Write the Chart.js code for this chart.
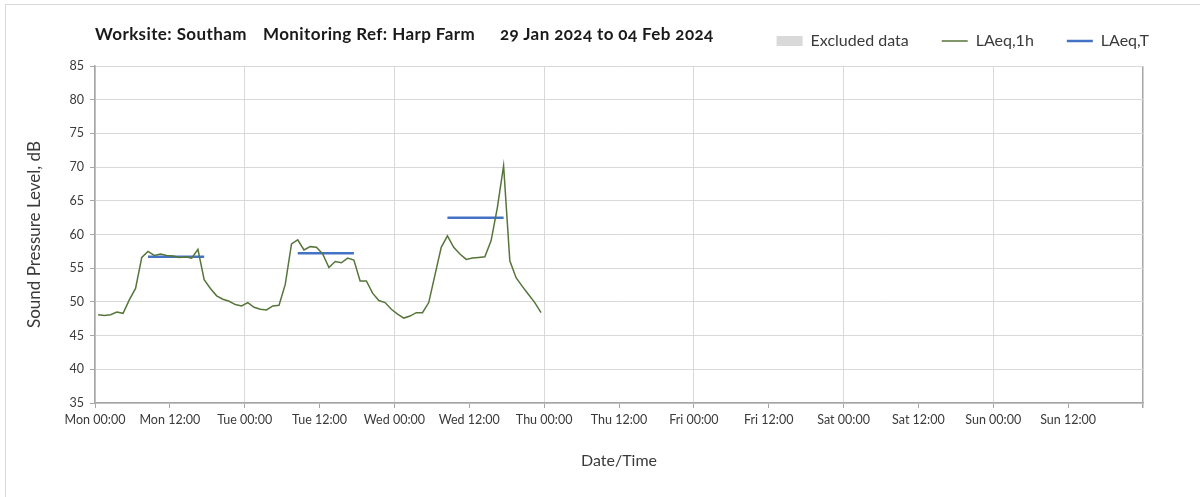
<!DOCTYPE html>
<html><head><meta charset="utf-8">
<script src="https://cdn.jsdelivr.net/npm/chart.js@4.4.1/dist/chart.umd.min.js"></script>
<style>
html,body{margin:0;padding:0;background:#fff;}
#wrap{position:relative;width:1200px;height:497px;overflow:hidden;}
#frame{position:absolute;left:5px;top:4px;right:-2px;bottom:-2px;border-left:1px solid #d9d9d9;border-top:1px solid #d9d9d9;pointer-events:none;}
.t{position:absolute;top:24px;font-family:Lato;font-weight:bold;font-size:17px;letter-spacing:0.4px;line-height:20px;color:#1a1a1a;white-space:nowrap;font-feature-settings:"onum";}
canvas{position:absolute;left:0;top:0;}
</style></head><body>
<div id="wrap">
<canvas id="c" width="1200" height="497"></canvas>
<div id="frame"></div>
<div class="t" style="left:95px">Worksite: Southam</div>
<div class="t" style="left:263px">Monitoring Ref: Harp Farm</div>
<div class="t" style="left:500px">29 Jan 2024 to 04 Feb 2024</div>
</div>
<script>
// Hour offsets from Mon 00:00 (hourly values plotted mid-hour)
const hours = Array.from({length:72}, (_, i) => i + 0.5);
const laeq1h = [
  48.1,48.0,48.1,48.5,48.3,50.3,52.0,56.6,57.5,56.9,57.1,56.9,56.8,56.6,56.7,56.5,57.8,53.3,52.0,50.9,50.4,50.1,49.6,49.4,
  49.9,49.2,48.9,48.8,49.4,49.5,52.6,58.6,59.2,57.7,58.2,58.1,57.1,55.1,56.0,55.8,56.5,56.2,53.1,53.1,51.3,50.2,49.9,48.9,
  48.2,47.6,47.9,48.4,48.4,49.9,54.0,58.1,59.8,58.1,57.1,56.3,56.5,56.6,56.7,59.1,64.0,70.2,56.1,53.6,52.3,51.1,49.9,48.4
];
const periodStart = [8.5, 32.5, 56.5];
const periodEnd = [17.5, 41.5, 65.5];
const laeqT = [56.7, 57.2, 62.5];
const tickLabels = ['Mon 00:00','Mon 12:00','Tue 00:00','Tue 12:00','Wed 00:00','Wed 12:00','Thu 00:00','Thu 12:00',
  'Fri 00:00','Fri 12:00','Sat 00:00','Sat 12:00','Sun 00:00','Sun 12:00',''];

const GREEN = '#56753a', BLUE = '#4472c4', GRID = '#d9d9d9', AXIS = '#a6a6a6', TXT = '#3a3a3a';

const tData = [];
laeqT.forEach((v, i) => {
  tData.push({x: periodStart[i], y: v}, {x: periodEnd[i], y: v});
  if (i < laeqT.length - 1) tData.push({x: (periodEnd[i] + periodStart[i + 1]) / 2, y: null});
});

new Chart(document.getElementById('c'), {
  type: 'line',
  data: {
    datasets: [
      {label: 'LAeq,1h', data: hours.map((h, i) => ({x: h, y: laeq1h[i]})), borderColor: GREEN, borderWidth: 1.5, pointRadius: 0, tension: 0},
      {label: 'LAeq,T', data: tData, borderColor: BLUE, borderWidth: 2.5, pointRadius: 0, spanGaps: false}
    ]
  },
  options: {
    responsive: false, animation: false,
    layout: {padding: {left: 0, right: 18, top: 0, bottom: 0}},
    plugins: {
      tooltip: {enabled: false},
      legend: {
        position: 'top', align: 'end',
        labels: {
          usePointStyle: true, pointStyleWidth: 26, boxHeight: 10, padding: 33,
          font: {family: 'Lato', size: 16}, color: TXT,
          generateLabels: () => [
            {text: 'Excluded data', pointStyle: 'rect', fillStyle: GRID, strokeStyle: GRID, lineWidth: 0, hidden: false, fontColor: TXT},
            {text: 'LAeq,1h', pointStyle: 'line', fillStyle: GREEN, strokeStyle: GREEN, lineWidth: 1.5, hidden: false, fontColor: TXT, datasetIndex: 0},
            {text: 'LAeq,T', pointStyle: 'line', fillStyle: BLUE, strokeStyle: BLUE, lineWidth: 2.5, hidden: false, fontColor: TXT, datasetIndex: 1}
          ]
        }
      }
    },
    scales: {
      x: {
        type: 'linear', min: 0, max: 168,
        ticks: {stepSize: 12, autoSkip: false, maxRotation: 0, padding: 4, color: TXT, font: {family: 'Lato', size: 12.5},
          callback: (v) => tickLabels[Math.round(v / 12)] || ''},
        grid: {
          color: (c) => (c.tick && c.tick.value % 24 === 0) ? (c.tick.value === 168 ? AXIS : GRID) : 'rgba(0,0,0,0)',
          lineWidth: (c) => (c.tick && c.tick.value === 168) ? 1.5 : 1,
          tickColor: AXIS, tickLength: 5
        },
        border: {color: AXIS, width: 1.5},
        title: {display: true, text: 'Date/Time', color: TXT, font: {family: 'Lato', size: 16}, padding: {top: 0, bottom: 27}},
        afterFit: (s) => { s.height = 94; }
      },
      xTop: {
        type: 'linear', position: 'top', display: true,
        grid: {display: false, drawOnChartArea: false}, border: {display: false}, ticks: {display: false},
        afterFit: (s) => { s.height = 7; }
      },
      y: {
        min: 35, max: 85,
        ticks: {stepSize: 5, padding: 6, color: TXT, font: {family: 'Lato', size: 12.5}},
        grid: {color: GRID, tickColor: AXIS, tickLength: 5},
        border: {color: AXIS, width: 1.5},
        title: {display: true, text: 'Sound Pressure Level, dB', color: TXT, font: {family: 'Lato', size: 17}, padding: {top: 24, bottom: 0}},
        afterFit: (s) => { s.width = 95; }
      },
      yR: {
        position: 'right', display: true,
        grid: {display: false, drawOnChartArea: false}, border: {display: false}, ticks: {display: false},
        afterFit: (s) => { s.width = 39; }
      }
    }
  }
});
</script>
</body></html>
